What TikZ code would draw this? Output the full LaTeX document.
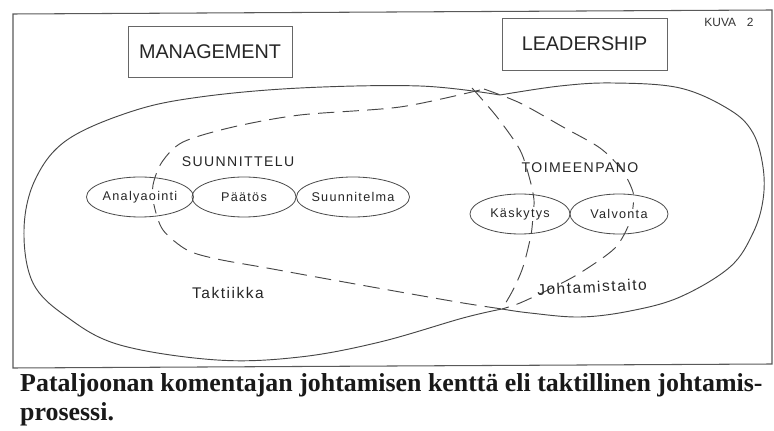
\documentclass[tikz,border=0pt]{standalone}
\usepackage{fontspec}
\setmainfont{Liberation Serif}
\newfontfamily\dsans{Liberation Sans}
\newfontfamily\dsanssp[LetterSpace=10]{Liberation Sans}
\usetikzlibrary{shapes.geometric}
\begin{document}
\begin{tikzpicture}[x=0.03cm,y=-0.03cm,
  frame/.style={draw=black!65, line width=0.9pt},
  outline/.style={draw=black!72, line width=0.8pt},
  dashline/.style={draw=black!72, line width=0.8pt, dash pattern=on 14pt off 7pt},
  oval/.style={ellipse, draw=black!70, line width=0.7pt, minimum height=1.2cm, inner sep=0pt},
  ovallabel/.style={font=\dsanssp\fontsize{10.8}{13}\selectfont, text=black!85, fill=white, inner sep=0.6pt},
  titlebox/.style={draw=black!60, line width=0.7pt, font=\dsans\fontsize{16.9}{20}\selectfont, text=black!85},
  region/.style={font=\dsanssp\fontsize{12}{14}\selectfont, text=black!85},
  area/.style={font=\dsanssp\fontsize{13.2}{15}\selectfont, text=black!85},
  caption/.style={font=\bfseries\fontsize{22.1}{26}\selectfont, text=black!90, inner sep=0pt, anchor=base west},
]
\useasboundingbox (0,0) rectangle (774,431);
% frame
\draw[frame] (13,14) -- (772,10) -- (772,364) -- (13,368) -- cycle;
% junction points
\coordinate (jt1) at (480,90);
\coordinate (jt2) at (472,88);
\coordinate (jt3) at (484,89);
\coordinate (jtop) at (500,95);
\coordinate (jb) at (502,309);
% outline of the two fields
\draw[outline] plot[smooth, tension=0.6] coordinates {(jtop) (420,86) (300,88) (200,97) (133,111) (67,140) (35,180) (24,230) (33,283) (67,317) (120,345) (217,360) (300,357) (380,342) (463,318) (jb)};
\draw[outline] plot[smooth, tension=0.6] coordinates {(jb) (530,313) (580,317) (630,311) (680,297) (730,267) (753,233) (763,200) (763,167) (753,133) (730,110) (680,88) (613,83) (560,86) (jtop)};
% dashed boundaries
\draw[dashline] plot[smooth] coordinates {(jt1) (400,107) (300,115) (233,127) (183,142) (162,162) (153,185) (154,205) (163,230) (187,250) (217,259) (267,268) (333,280) (400,292) (463,303) (jb)};
\draw[dashline] plot[smooth] coordinates {(jt2) (497,117) (520,150) (530,180) (534,200) (533,215) (531,235) (523,267) (513,290) (jb)};
\draw[dashline] plot[smooth] coordinates {(jt3) (520,103) (563,127) (600,148) (622,170) (633,192) (633,207) (630,222) (615,248) (580,273) (550,289) (520,303) (jb)};
% title boxes
\node[titlebox, minimum width=4.92cm, minimum height=1.53cm] (man) at (210,51.5) {MANAGEMENT};
\node[titlebox, minimum width=4.95cm, minimum height=1.56cm] (lea) at (584.5,44) {LEADERSHIP};
\node[font=\dsans\fontsize{10.2}{12}\selectfont, text=black!80] (kuva) at (729,22) {KUVA\hspace{0.9em}2};
% region labels
\node[region] (suun) at (238,162) {SUUNNITTELU};
\node[region] (toim) at (580,168) {TOIMEENPANO};
\node[area] (takt) at (228,293) {Taktiikka};
\node[area, rotate=3] (joht) at (592,287) {Johtamistaito};
% process ellipses
\node[oval, minimum width=3.21cm, label={[ovallabel]center:Analyaointi}] (ana) at (140,197) {};
\node[oval, minimum width=3.12cm, label={[ovallabel]center:Päätös}] (paa) at (244,197) {};
\node[oval, minimum width=3.39cm, label={[ovallabel]center:Suunnitelma}] (suu) at (353,197) {};
\node[oval, minimum width=3.0cm, label={[ovallabel]center:Käskytys}] (kas) at (520,214) {};
\node[oval, minimum width=2.94cm, label={[ovallabel]center:Valvonta}] (val) at (619,214) {};
% caption
\node[caption] (cap1) at (20,392) {Pataljoonan komentajan johtamisen kenttä eli taktillinen johtamis-};
\node[caption] (cap2) at (20,421) {prosessi.};
\end{tikzpicture}
\end{document}
